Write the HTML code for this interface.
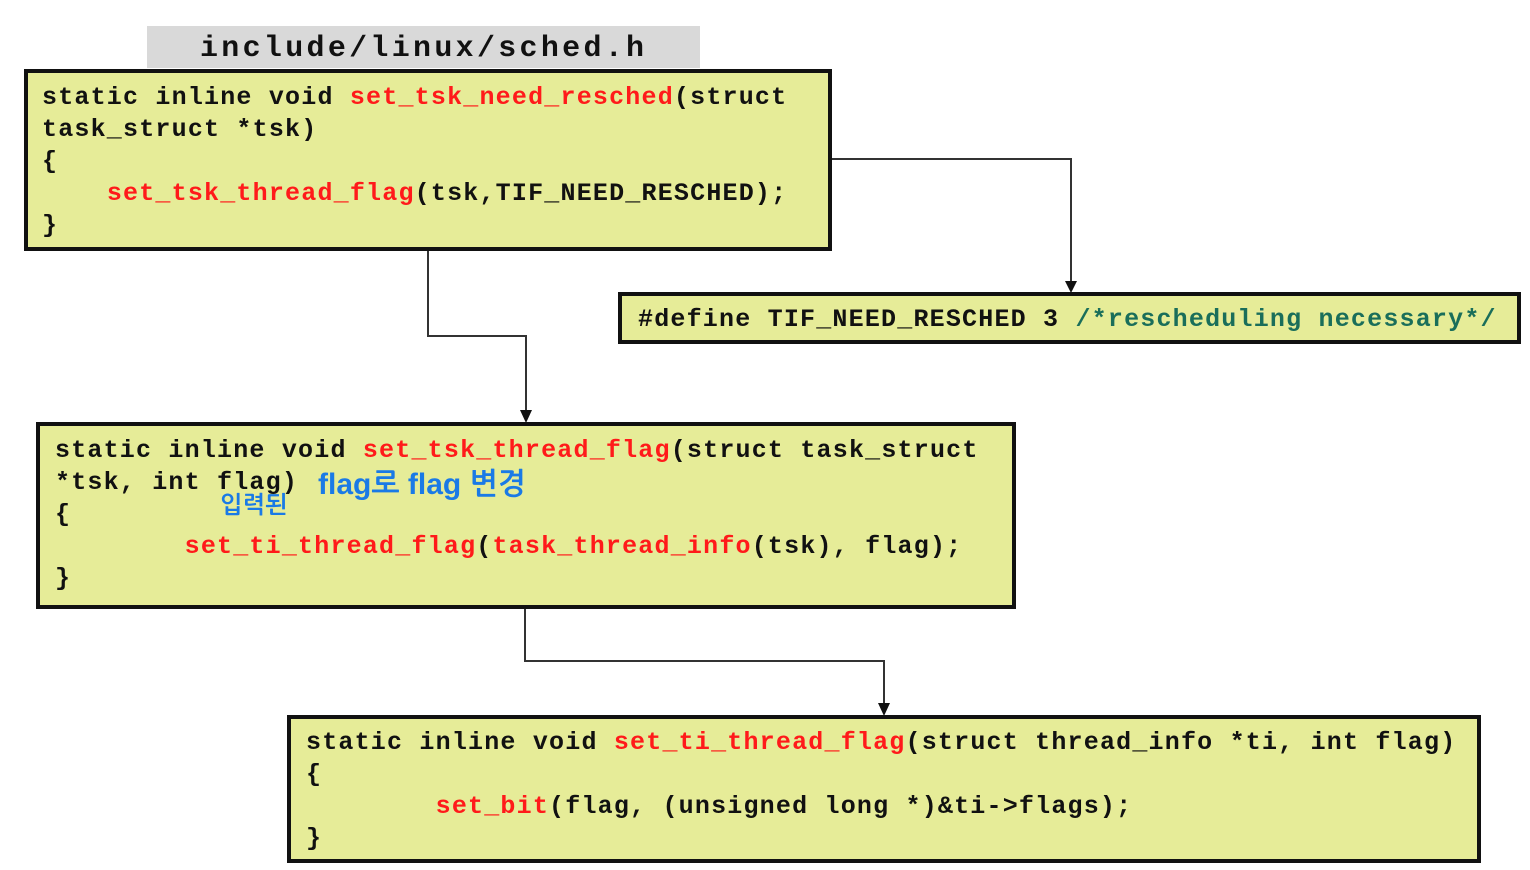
<!DOCTYPE html>
<html><head><meta charset="utf-8"><style>
body{margin:0;width:1530px;height:870px;background:#fff;position:relative;overflow:hidden;font-family:"Liberation Mono",monospace;}
.box{position:absolute;background:#e6ec98;border:4px solid #111;box-sizing:border-box;}
.l{position:absolute;white-space:pre;font-size:25px;letter-spacing:1.2px;font-weight:bold;line-height:32px;color:#111;}
.r{color:#ff1a1a}
.g{color:#1a6e5a}
.hw{position:absolute;color:#1a7ae6;font-family:"Liberation Sans","NanumGothic",sans-serif;font-weight:bold;white-space:pre;}
</style></head><body>
<div style="position:absolute;left:147px;top:26px;width:553px;height:42px;background:#d9d9d9;"></div>
<div class="l" style="left:200px;top:31px;font-size:30px;letter-spacing:3.3px;line-height:36px;">include/linux/sched.h</div>

<svg width="1530" height="870" style="position:absolute;left:0;top:0">
<g stroke="#333" stroke-width="2" fill="none">
<polyline points="831,159 1071,159 1071,282"/>
<polyline points="428,250 428,336 526,336 526,412"/>
<polyline points="525,608 525,661 884,661 884,705"/>
</g>
<g fill="#111">
<polygon points="1065,281 1077,281 1071,293"/>
<polygon points="520,410 532,410 526,423"/>
<polygon points="878,703 890,703 884,716"/>
</g>
</svg>

<div class="box" style="left:24px;top:69px;width:808px;height:182px;"></div>
<div class="l" style="left:42px;top:82px">static inline void <span class="r">set_tsk_need_resched</span>(struct</div>
<div class="l" style="left:42px;top:114px">task_struct *tsk)</div>
<div class="l" style="left:42px;top:146px">{</div>
<div class="l" style="left:42px;top:178px">    <span class="r">set_tsk_thread_flag</span>(tsk,TIF_NEED_RESCHED);</div>
<div class="l" style="left:42px;top:210px">}</div>

<div class="box" style="left:618px;top:292px;width:903px;height:52px;"></div>
<div class="l" style="left:638px;top:304px">#define TIF_NEED_RESCHED 3 <span class="g">/*rescheduling necessary*/</span></div>

<div class="box" style="left:36px;top:422px;width:980px;height:187px;"></div>
<div class="l" style="left:55px;top:435px">static inline void <span class="r">set_tsk_thread_flag</span>(struct task_struct</div>
<div class="l" style="left:55px;top:467px">*tsk, int flag)</div>
<div class="l" style="left:55px;top:499px">{</div>
<div class="l" style="left:55px;top:531px">        <span class="r">set_ti_thread_flag</span>(<span class="r">task_thread_info</span>(tsk), flag);</div>
<div class="l" style="left:55px;top:563px">}</div>
<div class="hw" style="left:318px;top:468px;font-size:30px;">flag로 flag 변경</div>
<div class="hw" style="left:220px;top:492px;font-size:24px;">입력된</div>

<div class="box" style="left:287px;top:715px;width:1194px;height:148px;"></div>
<div class="l" style="left:306px;top:727px">static inline void <span class="r">set_ti_thread_flag</span>(struct thread_info *ti, int flag)</div>
<div class="l" style="left:306px;top:759px">{</div>
<div class="l" style="left:306px;top:791px">        <span class="r">set_bit</span>(flag, (unsigned long *)&amp;ti-&gt;flags);</div>
<div class="l" style="left:306px;top:823px">}</div>
</body></html>
